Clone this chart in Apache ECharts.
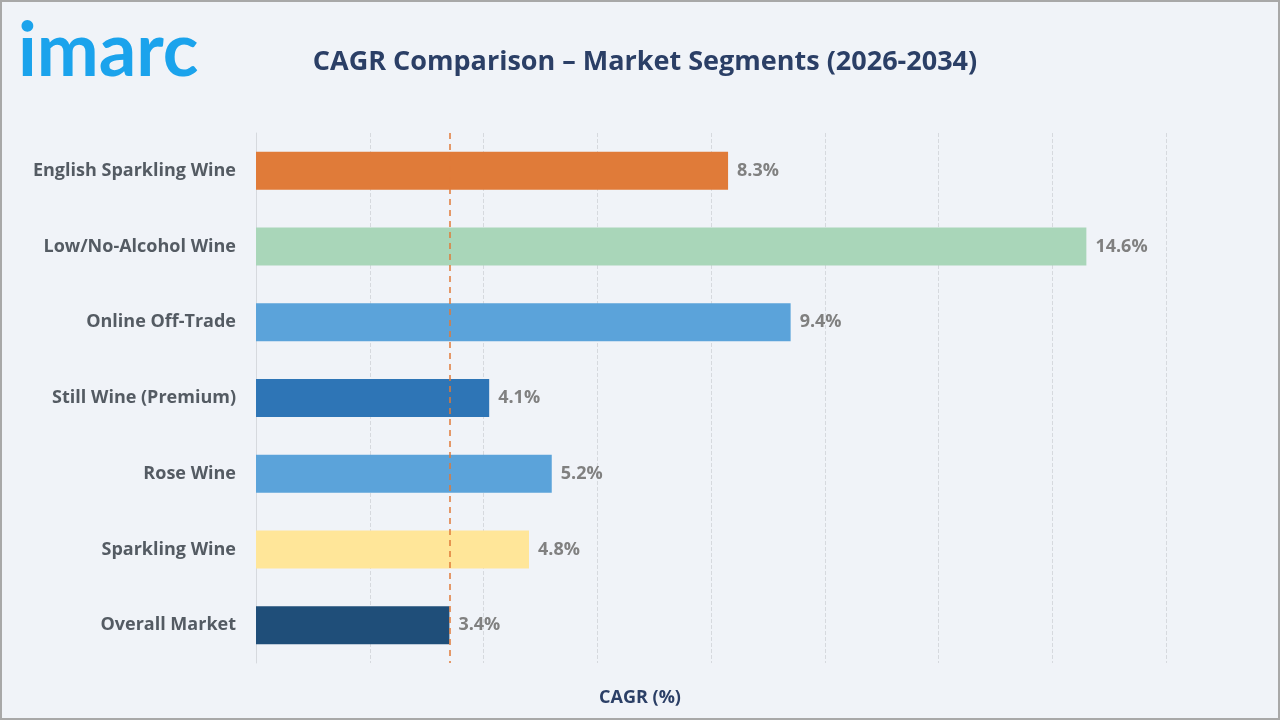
<!DOCTYPE html>
<html>
<head>
<meta charset="utf-8">
<script src="https://cdn.jsdelivr.net/npm/echarts@6/dist/echarts.min.js"></script>
<style>
  html, body { margin: 0; padding: 0; background: #f0f3f8; }
  #chart { width: 1280px; height: 720px; }
</style>
</head>
<body>
<div id="chart"></div>
<script>
// chart data
const categories = ['English Sparkling Wine', 'Low/No-Alcohol Wine', 'Online Off-Trade', 'Still Wine (Premium)', 'Rose Wine', 'Sparkling Wine', 'Overall Market']
const cagrValues = [8.3, 14.6, 9.4, 4.1, 5.2, 4.8, 3.4]
const barColors = ['#E07B39', '#A9D6B9', '#5BA3DA', '#2E75B6', '#5BA3DA', '#FFE699', '#1F4E79']
const overallMarket = 3.4

const chart = echarts.init(document.getElementById('chart'))

chart.setOption({
  backgroundColor: '#f0f3f8',
  animation: false,
  title: {
    text: 'CAGR Comparison – Market Segments (2026-2034)',
    left: 640,
    top: 44,
    textAlign: 'center',
    textStyle: {
      fontFamily: 'Open Sans',
      fontWeight: 'bold',
      fontSize: 27,
      color: '#2B3F66'
    }
  },
  graphic: [
    {
      type: 'text',
      left: 18,
      top: 15,
      style: {
        text: 'imarc',
        fontFamily: 'Lato',
        fontWeight: 'bold',
        fontSize: 74,
        fill: '#1BA3EC'
      }
    },
    {
      // x axis title, centred on the page
      type: 'text',
      x: 640,
      y: 698,
      style: {
        text: 'CAGR (%)',
        align: 'center',
        verticalAlign: 'middle',
        fontFamily: 'Open Sans',
        fontWeight: 'bold',
        fontSize: 18,
        fill: '#2B3F66'
      }
    },
    {
      type: 'rect',
      z: 100,
      shape: { x: 1, y: 1, width: 1278, height: 718 },
      style: { fill: 'none', stroke: '#a8a8a8', lineWidth: 2 }
    }
  ],
  grid: {
    left: 256,
    right: 114,
    top: 133,
    bottom: 57
  },
  xAxis: {
    type: 'value',
    min: 0,
    max: 16,
    interval: 2,
    axisLabel: { show: false },
    axisLine: { show: false },
    axisTick: { show: false },
    splitLine: {
      show: true,
      lineStyle: { color: '#d6d9de', type: 'dashed', width: 1 }
    }
  },
  yAxis: {
    type: 'category',
    data: categories,
    inverse: true,
    axisLine: { show: true, lineStyle: { color: '#d6d9de' } },
    axisTick: { show: false },
    axisLabel: {
      margin: 20,
      fontFamily: 'Open Sans',
      fontWeight: 'bold',
      fontSize: 18,
      color: '#545b63'
    }
  },
  series: [{
    type: 'bar',
    barWidth: 38,
    data: cagrValues.map((v, i) => ({
      value: v,
      itemStyle: { color: barColors[i] }
    })),
    label: {
      show: true,
      position: 'right',
      distance: 9,
      formatter: '{c}%',
      fontFamily: 'Open Sans',
      fontWeight: 'bold',
      fontSize: 18,
      color: '#808080'
    },
    markLine: {
      symbol: 'none',
      silent: true,
      label: { show: false },
      lineStyle: { color: '#E07B39', type: [6, 5], width: 1.5 },
      data: [{ xAxis: overallMarket }]
    }
  }]
})
</script>
</body>
</html>
